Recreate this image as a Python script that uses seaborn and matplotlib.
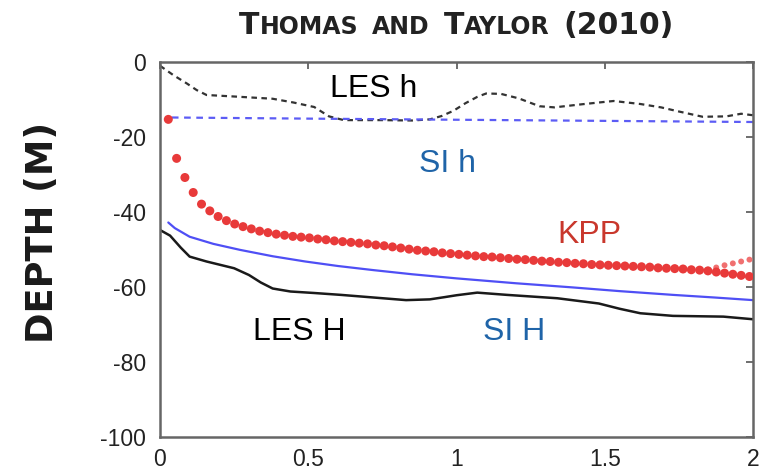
import numpy as np
import pandas as pd
import matplotlib
matplotlib.use("Agg")
import matplotlib.pyplot as plt
import seaborn as sns
from matplotlib.offsetbox import TextArea, HPacker, AnnotationBbox

# ---------------- data ----------------
les_h_x = [0.0, 0.045, 0.09, 0.124, 0.157, 0.25, 0.38, 0.45, 0.52, 0.57, 0.62, 0.75, 0.85,
           0.91, 0.95, 0.99, 1.03, 1.07, 1.10, 1.15, 1.21, 1.28, 1.33, 1.42, 1.48, 1.53,
           1.62, 1.69, 1.75, 1.83, 1.91, 1.96, 2.0]
les_h_y = [-1.0, -3.5, -5.7, -7.5, -8.8, -9.2, -9.8, -10.8, -12.0, -14.5, -15.5, -15.5, -15.6,
           -15.3, -14.4, -13.0, -11.0, -9.3, -8.4, -8.5, -9.7, -11.8, -12.1, -11.3, -10.8, -10.4,
           -11.2, -12.1, -13.2, -14.6, -14.5, -13.8, -14.2]

si_h_x = [0.04, 0.5, 1.0, 1.5, 2.0]
si_h_y = [-14.8, -15.1, -15.4, -15.7, -16.0]

si_H_x = [0.028, 0.05, 0.1, 0.18, 0.27, 0.38, 0.49, 0.6, 0.72, 0.85, 1.0, 1.2, 1.39, 1.55,
          1.73, 1.87, 2.0]
si_H_y = [-42.8, -44.3, -46.6, -48.5, -50.1, -51.8, -53.2, -54.4, -55.5, -56.6, -57.7, -59.0,
          -60.1, -61.1, -62.1, -62.8, -63.5]

les_H_x = [0.0, 0.034, 0.07, 0.1, 0.157, 0.25, 0.3, 0.34, 0.38, 0.44, 0.52, 0.61, 0.72, 0.83,
           0.91, 0.96, 1.0, 1.07, 1.17, 1.34, 1.48, 1.55, 1.62, 1.73, 1.9, 2.0]
les_H_y = [-44.8, -46.3, -49.5, -51.9, -53.2, -55.0, -56.8, -58.8, -60.4, -61.2, -61.6, -62.1,
           -62.8, -63.5, -63.3, -62.7, -62.2, -61.5, -62.1, -63.0, -64.4, -65.8, -67.0, -67.7,
           -67.9, -68.6]

kpp_x = [0.028, 0.056, 0.084, 0.112, 0.14, 0.168, 0.196, 0.224, 0.252, 0.28, 0.308, 0.336,
         0.364, 0.392, 0.42, 0.448, 0.476, 0.504, 0.532, 0.56, 0.588, 0.616, 0.644, 0.672,
         0.70, 0.728, 0.756, 0.784, 0.812, 0.84, 0.868, 0.896, 0.924, 0.952, 0.98, 1.008,
         1.036, 1.064, 1.092, 1.12, 1.148, 1.176, 1.204, 1.232, 1.26, 1.288, 1.316, 1.344,
         1.372, 1.40, 1.428, 1.456, 1.484, 1.512, 1.54, 1.568, 1.596, 1.624, 1.652, 1.68,
         1.708, 1.736, 1.764, 1.792, 1.82, 1.848, 1.876, 1.904, 1.932, 1.96, 1.988]
kpp_y = [-15.3, -25.7, -30.8, -34.8, -37.9, -39.7, -41.2, -42.3, -43.2, -43.9, -44.5, -45.1,
         -45.5, -45.9, -46.2, -46.5, -46.7, -46.9, -47.2, -47.4, -47.7, -47.9, -48.1, -48.3,
         -48.5, -48.8, -49.0, -49.3, -49.6, -49.9, -50.2, -50.4, -50.6, -50.9, -51.1, -51.3,
         -51.5, -51.7, -51.9, -52.0, -52.2, -52.4, -52.6, -52.7, -52.9, -53.1, -53.2, -53.4,
         -53.5, -53.7, -53.8, -54.0, -54.1, -54.2, -54.3, -54.4, -54.5, -54.6, -54.7, -54.9,
         -55.0, -55.1, -55.2, -55.4, -55.5, -55.7, -56.0, -56.3, -56.6, -56.9, -57.2]
kpp2_x = [1.848, 1.876, 1.904, 1.932, 1.96, 1.988]
kpp2_y = [-55.4, -54.8, -54.2, -53.7, -53.2, -52.7]

x_ticks = [0, 0.5, 1, 1.5, 2]
x_tick_labels = ["0", "0.5", "1", "1.5", "2"]
y_ticks = [0, -20, -40, -60, -80, -100]
y_tick_labels = ["0", "-20", "-40", "-60", "-80", "-100"]

title_words = [("T", "HOMAS"), ("", "AND"), ("T", "AYLOR"), ("(2010)", "")]
y_label = "DEPTH (M)"

# ---------------- figure ----------------
sns.set_style("white")
plt.rcParams["font.family"] = ["Liberation Sans", "DejaVu Sans"]

fig = plt.figure(figsize=(7.65, 4.73), dpi=100)
ax = fig.add_axes([160 / 765, 1 - 437 / 473, (753 - 160) / 765, (437 - 62) / 473])

sns.lineplot(x=les_h_x, y=les_h_y, ax=ax, color="#333333", lw=1.6,
             linestyle=(0, (2.5, 2.0)), sort=False, estimator=None)
sns.lineplot(x=si_h_x, y=si_h_y, ax=ax, color="#5c5cf5", lw=1.6,
             linestyle=(0, (3.0, 2.5)), sort=False, estimator=None)
sns.lineplot(x=si_H_x, y=si_H_y, ax=ax, color="#4f4ff5", lw=1.6, sort=False, estimator=None)
sns.lineplot(x=les_H_x, y=les_H_y, ax=ax, color="#1a1a1a", lw=1.8, sort=False, estimator=None)
sns.scatterplot(x=kpp2_x, y=kpp2_y, ax=ax, color="#f07070", s=18, edgecolor="none", zorder=4)
sns.scatterplot(x=kpp_x, y=kpp_y, ax=ax, color="#e83a3a", s=42, edgecolor="none", zorder=5)

ax.set_xlim(0, 2)
ax.set_ylim(-100, 0)
ax.set_xticks(x_ticks)
ax.set_xticklabels(x_tick_labels)
ax.set_yticks(y_ticks)
ax.set_yticklabels(y_tick_labels)
ax.tick_params(direction="in", length=5, width=1.2, colors="#555555", labelcolor="#222222",
               labelsize=16.5, top=True, right=True)
ax.tick_params(axis="y", pad=10)
ax.tick_params(axis="x", pad=8)
for sp in ax.spines.values():
    sp.set_visible(True)
    sp.set_color("#666666")
    sp.set_linewidth(1.8)

# series labels
ax.text(0.722, -9.25, "LES h", color="black", fontsize=23, ha="center", va="baseline")
ax.text(0.971, -29.3, "SI h", color="#1f64a8", fontsize=23, ha="center", va="baseline")
ax.text(1.447, -48.3, "KPP", color="#c9372c", fontsize=23, ha="center", va="baseline")
ax.text(0.47, -74.1, "LES H", color="black", fontsize=23, ha="center", va="baseline")
ax.text(1.193, -74.1, "SI H", color="#1f64a8", fontsize=23, ha="center", va="baseline")

# y label
fig.text(43 / 765, 1 - 232 / 473, y_label, rotation=90, ha="center", va="center",
         fontsize=26.5, fontweight="bold", family="DejaVu Sans", color="#1a1a1a")

# title in small caps
big, small = 21.5, 17
tprops_big = dict(fontsize=big, fontweight="bold", family="DejaVu Sans", color="#222222")
tprops_small = dict(fontsize=small, fontweight="bold", family="DejaVu Sans", color="#222222")
words = []
for cap, rest in title_words:
    parts = []
    if cap:
        parts.append(TextArea(cap, textprops=tprops_big))
    if rest:
        parts.append(TextArea(rest, textprops=tprops_small))
    words.append(HPacker(children=parts, align="baseline", pad=0, sep=0))
title_box = HPacker(children=words, align="baseline", pad=0, sep=10)
ab = AnnotationBbox(title_box, (0.5, 1.0), xycoords="axes fraction", xybox=(0, 16),
                    boxcoords="offset points", box_alignment=(0.5, 0), frameon=False)
ax.add_artist(ab)

fig.savefig("out.png", dpi=100)
